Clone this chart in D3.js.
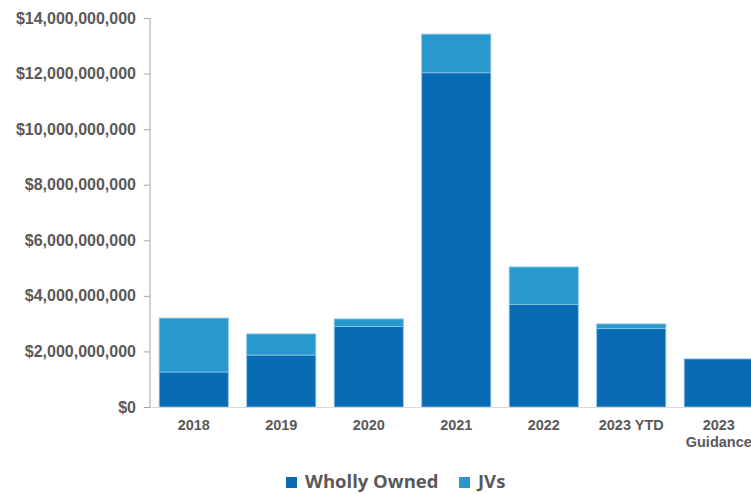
<!DOCTYPE html>
<html><head><meta charset="utf-8">
<script src="https://cdn.jsdelivr.net/npm/d3@7"></script>
<style>body{margin:0;background:#fff;overflow:hidden}svg{display:block}</style>
</head><body>
<svg id="c" width="751" height="494"></svg>
<script>
const categories = ["2018","2019","2020","2021","2022","2023 YTD","2023\nGuidance"];
const whollyOwned = [1.26e9, 1.87e9, 2.90e9, 12.03e9, 3.69e9, 2.82e9, 1.73e9];
const jvs = [1.94e9, 0.76e9, 0.27e9, 1.39e9, 1.35e9, 0.17e9, 0];
const yTicks = [0,2e9,4e9,6e9,8e9,10e9,12e9,14e9];
const seriesNames = ["Wholly Owned","JVs"];
const colors = ["#0a6bb5","#2899cc"];

const svg = d3.select("#c");
const x = d3.scaleBand().domain(categories).range([150, 762.5]).paddingInner(0.21).paddingOuter(0.105);
const y = d3.scaleLinear().domain([0,14e9]).range([407,18]);

const data = categories.map((c,i)=>({cat:c, wo:whollyOwned[i], jv:jvs[i]}));
const stack = d3.stack().keys(["wo","jv"])(data);

svg.append("g").selectAll("g").data(stack).join("g")
  .attr("fill",(d,i)=>colors[i])
  .selectAll("rect").data(d=>d.filter(p=>p[1]-p[0]>0)).join("rect")
  .attr("x",d=>x(d.data.cat)).attr("width",x.bandwidth())
  .attr("y",d=>y(d[1])).attr("height",d=>y(d[0])-y(d[1]))
  .attr("stroke","#8fc3e6").attr("stroke-width",0.8);

// y axis
const ya = svg.append("g").attr("transform","translate(150,0)")
  .call(d3.axisLeft(y).tickValues(yTicks).tickSize(6).tickPadding(8).tickFormat(d=>"$"+d3.format(",")(d)));
ya.select(".domain").attr("stroke","#a6a6a6").attr("d","M0,18V407");
ya.selectAll(".tick line").attr("stroke","#a6a6a6");
ya.selectAll("text").attr("fill","#595959").style("font-family","'Liberation Sans',Arial,sans-serif")
  .style("font-weight","bold").style("font-size","16px");

// x axis
const xa = svg.append("g").attr("transform","translate(0,407)")
  .call(d3.axisBottom(x).tickSize(0).tickPadding(10).tickFormat(""));
xa.select(".domain").attr("stroke","#d9d9d9").attr("d","M150,0.5H751");
xa.selectAll(".tick").each(function(d){
  const t = d3.select(this).append("text").attr("fill","#595959").attr("text-anchor","middle")
    .style("font-family","'Liberation Sans',Arial,sans-serif").style("font-weight","bold").style("font-size","14.5px");
  d.split("\n").forEach((line,k)=>t.append("tspan").attr("x",0).attr("y",23+k*17).text(line));
});

// legend
const leg = svg.append("g");
const legX = [286, 459];
seriesNames.forEach((n,i)=>{
  leg.append("rect").attr("x",legX[i]).attr("y",477).attr("width",11).attr("height",11).attr("fill",colors[i]);
  leg.append("text").attr("x",legX[i]+19).attr("y",488).attr("fill","#595959")
    .style("font-family","'Open Sans',Lato,sans-serif").style("font-weight","bold").style("font-size","18.5px").text(n);
});
</script>
</body></html>
